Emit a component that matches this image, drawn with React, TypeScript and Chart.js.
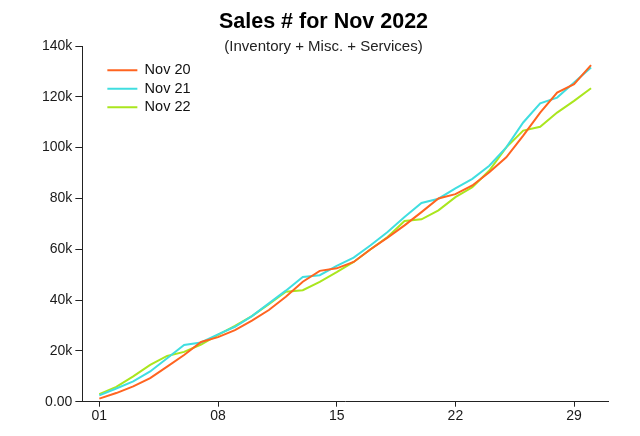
import React, { useEffect, useRef } from "react";
import { Chart, registerables } from "chart.js";

Chart.register(...registerables);

const days = [1, 2, 3, 4, 5, 6, 7, 8, 9, 10, 11, 12, 13, 14, 15, 16, 17, 18, 19, 20, 21, 22, 23, 24, 25, 26, 27, 28, 29, 30];

const nov20 = [1200, 3400, 6000, 9300, 13800, 18400, 23500, 25400, 28200, 31900, 36100, 41300, 47200, 51500, 52500, 55000, 60000, 64600, 69400, 74600, 80000, 81700, 85100, 90300, 96200, 104700, 113800, 121700, 125000, 132500];
const nov21 = [2500, 5200, 8000, 11900, 17100, 22300, 23300, 26500, 29500, 33700, 38700, 43700, 49100, 49800, 53500, 56700, 61600, 66800, 72700, 78200, 79900, 84000, 87700, 92900, 100100, 109900, 117400, 119700, 125600, 131500];
const nov22 = [3000, 5800, 10000, 14500, 18000, 19600, 22500, 26300, 29800, 33700, 38400, 43300, 43900, 47200, 51000, 55000, 60000, 64800, 71100, 71800, 75300, 80500, 84400, 91000, 100100, 106700, 108200, 113800, 118400, 123400];

const seriesLabels = ["Nov 20", "Nov 21", "Nov 22"];
const xTickDays = [1, 8, 15, 22, 29];
const titleText = "Sales # for Nov 2022";
const subtitleText = "(Inventory + Misc. + Services)";

const FONT = "'Liberation Sans', Arial, Helvetica, sans-serif";

export default function App() {
  const ref = useRef<HTMLCanvasElement | null>(null);

  useEffect(() => {
    document.body.style.margin = "0";
    const canvas = ref.current;
    if (!canvas) return;

    const toPts = (vals: number[]) => vals.map((v, i) => ({ x: days[i], y: v }));

    const legendShift = {
      id: "legendShift",
      afterLayout(chart: any) {
        const l = chart.legend;
        if (!l) return;
        const ca = chart.chartArea;
        const w = l.width;
        const h = l.height;
        l.left = ca.left + 21;
        l.top = ca.top + 13;
        l.right = l.left + w;
        l.bottom = l.top + h;
      },
    };

    const chart = new Chart(canvas, {
      type: "line",
      data: {
        datasets: [
          { label: seriesLabels[0], data: toPts(nov20), borderColor: "#FF6420", backgroundColor: "#FF6420", borderWidth: 2, pointRadius: 0, tension: 0 },
          { label: seriesLabels[1], data: toPts(nov21), borderColor: "#40DEE0", backgroundColor: "#40DEE0", borderWidth: 2, pointRadius: 0, tension: 0 },
          { label: seriesLabels[2], data: toPts(nov22), borderColor: "#AAE61E", backgroundColor: "#AAE61E", borderWidth: 2, pointRadius: 0, tension: 0 },
        ],
      },
      options: {
        responsive: false,
        animation: false,
        devicePixelRatio: 1,
        layout: { padding: { left: 39, right: 32, top: 0, bottom: 10.5 } },
        plugins: {
          title: {
            display: true,
            text: titleText,
            color: "#000",
            font: { family: FONT, size: 21.5, weight: "bold", lineHeight: 1.2 },
            padding: { top: 9, bottom: 0 },
          },
          subtitle: {
            display: true,
            text: subtitleText,
            color: "#222",
            font: { family: FONT, size: 15, lineHeight: 1.2 },
            padding: { top: 3, bottom: -9.8 },
          },
          legend: {
            display: true,
            position: "chartArea" as any,
            align: "start",
            labels: {
              usePointStyle: true,
              pointStyle: "line",
              pointStyleWidth: 30,
              boxHeight: 14,
              padding: 4,
              color: "#111",
              font: { family: FONT, size: 14.5 },
            },
          },
          tooltip: { enabled: false },
        },
        scales: {
          x: {
            type: "linear",
            min: 0,
            max: 31,
            afterBuildTicks: (axis: any) => {
              axis.ticks = xTickDays.map((v) => ({ value: v }));
            },
            grid: { display: true, drawOnChartArea: false, drawTicks: true, tickLength: 5, color: "#222" },
            border: { display: true, color: "#222", width: 1 },
            ticks: {
              autoSkip: false,
              maxRotation: 0,
              padding: 1,
              color: "#1a1a1a",
              font: { family: FONT, size: 14 },
              callback: (v: any) => String(v).padStart(2, "0"),
            },
          },
          y: {
            type: "linear",
            min: 0,
            max: 140000,
            grid: { display: true, drawOnChartArea: false, drawTicks: true, tickLength: 7, color: "#222" },
            border: { display: true, color: "#222", width: 1 },
            ticks: {
              stepSize: 20000,
              padding: 3,
              color: "#1a1a1a",
              font: { family: FONT, size: 14 },
              callback: (v: any) => (Number(v) === 0 ? "0.00" : Number(v) / 1000 + "k"),
            },
          },
        },
      },
      plugins: [legendShift],
    } as any);

    return () => chart.destroy();
  }, []);

  return (
    <div style={{ width: 640, height: 436 }}>
      <canvas ref={ref} width={640} height={436} style={{ display: "block" }} />
    </div>
  );
}
